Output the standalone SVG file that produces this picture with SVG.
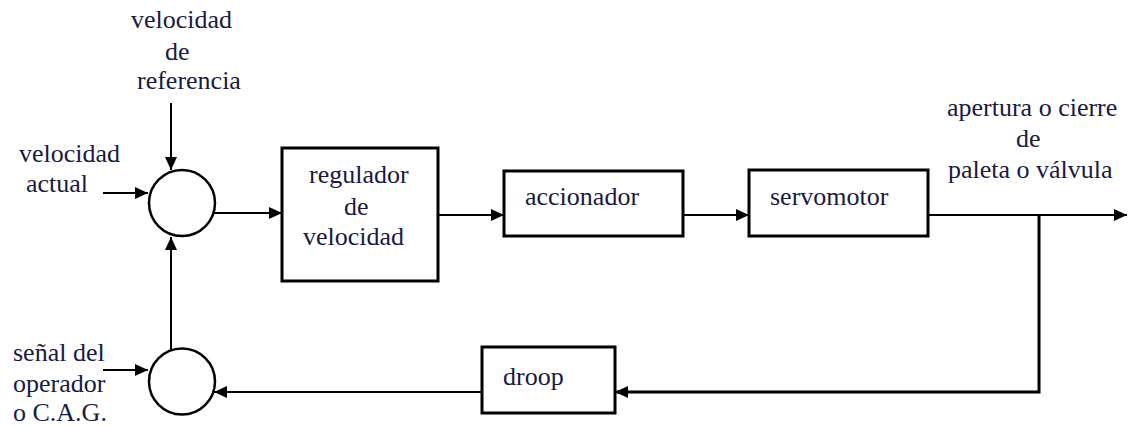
<svg xmlns="http://www.w3.org/2000/svg" width="1128" height="427" viewBox="0 0 1128 427">
<style>
.box{fill:#fff;stroke:#000;stroke-width:3}
.sum{fill:#fff;stroke:#000;stroke-width:2.5}
.ln{fill:none;stroke:#000;stroke-width:2}
</style>
<defs>
<marker id="ah" markerUnits="userSpaceOnUse" markerWidth="14" markerHeight="12" refX="13" refY="6" orient="auto">
<path d="M0,0 L13,6 L0,12 Z" fill="#000"/>
</marker>
</defs>
<rect width="1128" height="427" fill="#fff"/>
<g id="connectors">
<line class="ln" x1="171" y1="103" x2="171" y2="170" marker-end="url(#ah)"/>
<line class="ln" x1="103" y1="193" x2="148" y2="193" marker-end="url(#ah)"/>
<line class="ln" x1="214" y1="213" x2="282" y2="213" marker-end="url(#ah)"/>
<line class="ln" x1="438" y1="215" x2="504" y2="215" marker-end="url(#ah)"/>
<line class="ln" x1="683" y1="215" x2="749" y2="215" marker-end="url(#ah)"/>
<line class="ln" x1="928" y1="215" x2="1127" y2="215" marker-end="url(#ah)"/>
<polyline class="ln" points="1039,215 1039,392 615,392" marker-end="url(#ah)" style="stroke-width:3"/>
<line class="ln" x1="482" y1="392" x2="214" y2="392" marker-end="url(#ah)"/>
<line class="ln" x1="171" y1="350" x2="171" y2="237" marker-end="url(#ah)"/>
<line class="ln" x1="103" y1="370" x2="148" y2="370" marker-end="url(#ah)"/>
</g>
<g font-family="'Liberation Serif', 'DejaVu Serif', 'Times New Roman', serif" font-size="26" fill="#1a1a40">
<g id="sum1"><circle class="sum" cx="182" cy="203" r="33"/></g>
<g id="sum2"><circle class="sum" cx="182" cy="381.5" r="33"/></g>
<g id="regulador">
<rect class="box" x="282" y="148" width="156" height="133"/>
<text x="309" y="183">regulador</text>
<text x="344" y="215">de</text>
<text x="303" y="245">velocidad</text>
</g>
<g id="accionador">
<rect class="box" x="504" y="171" width="179" height="65"/>
<text x="525" y="205">accionador</text>
</g>
<g id="servomotor">
<rect class="box" x="749" y="170" width="179" height="66"/>
<text x="770" y="205">servomotor</text>
</g>
<g id="droop">
<rect class="box" x="482" y="347" width="133" height="66"/>
<text x="503" y="385">droop</text>
</g>
<g id="label-referencia">
<text x="131" y="28">velocidad</text>
<text x="165" y="60">de</text>
<text x="137" y="89">referencia</text>
</g>
<g id="label-actual">
<text x="19" y="162">velocidad</text>
<text x="26" y="192">actual</text>
</g>
<g id="label-operador">
<text x="13" y="361">señal del</text>
<text x="13" y="392">operador</text>
<text x="13" y="421">o C.A.G.</text>
</g>
<g id="label-salida">
<text x="947" y="116">apertura o cierre</text>
<text x="1016" y="147">de</text>
<text x="948" y="178">paleta o válvula</text>
</g>
</g>
</svg>
